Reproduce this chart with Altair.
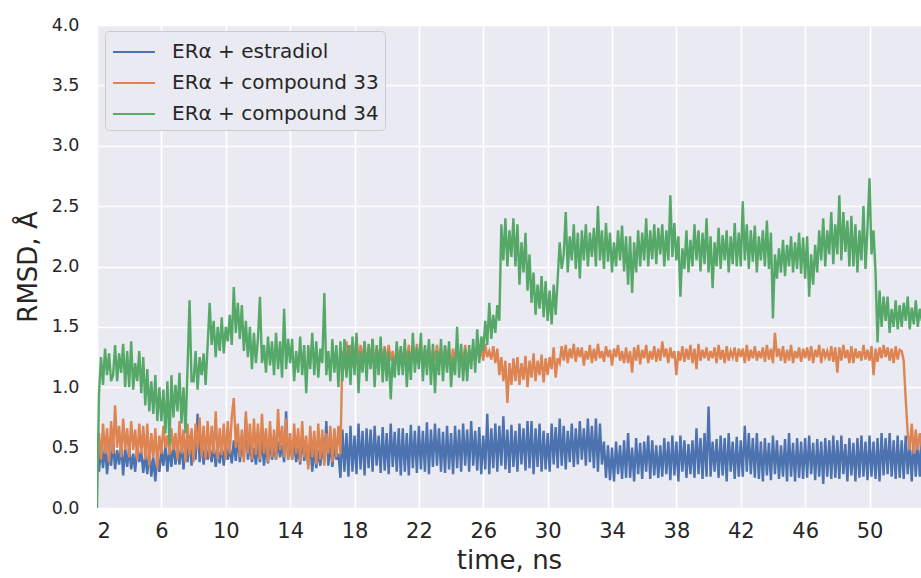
import altair as alt
import pandas as pd

# time axis: samples every 0.125 ns starting at 2 ns
T_START = 2.0
T_STEP = 0.125

# RMSD values (Å), 8 samples per ns
ESTRADIOL = [
    0.45, 0.30, 0.50, 0.33, 0.52, 0.28, 0.47, 0.35,  # 2
    0.55, 0.32, 0.48, 0.36, 0.53, 0.27, 0.50, 0.34,  # 3
    0.50, 0.32, 0.45, 0.30, 0.52, 0.38, 0.47, 0.29,  # 4
    0.44, 0.28, 0.50, 0.26, 0.42, 0.22, 0.45, 0.30,  # 5
    0.48, 0.35, 0.52, 0.30, 0.50, 0.34, 0.55, 0.36,  # 6
    0.50, 0.36, 0.55, 0.32, 0.52, 0.38, 0.60, 0.35,  # 7
    0.52, 0.40, 0.78, 0.38, 0.55, 0.36, 0.53, 0.40,  # 8
    0.50, 0.38, 0.54, 0.34, 0.48, 0.37, 0.52, 0.35,  # 9
    0.55, 0.40, 0.50, 0.37, 0.56, 0.39, 0.60, 0.38,  # 10
    0.52, 0.42, 0.75, 0.40, 0.55, 0.38, 0.50, 0.36,  # 11
    0.54, 0.38, 0.58, 0.35, 0.52, 0.37, 0.55, 0.40,  # 12
    0.50, 0.40, 0.55, 0.42, 0.52, 0.38, 0.80, 0.40,  # 13
    0.56, 0.40, 0.55, 0.38, 0.50, 0.36, 0.60, 0.39,  # 14
    0.52, 0.35, 0.55, 0.30, 0.50, 0.33, 0.48, 0.35,  # 15
    0.50, 0.38, 0.72, 0.35, 0.55, 0.34, 0.52, 0.40,  # 16
    0.45, 0.25, 0.65, 0.30, 0.62, 0.26, 0.68, 0.30,  # 17
    0.60, 0.28, 0.70, 0.32, 0.64, 0.27, 0.66, 0.33,  # 18
    0.65, 0.30, 0.68, 0.35, 0.60, 0.29, 0.67, 0.31,  # 19
    0.62, 0.28, 0.70, 0.34, 0.63, 0.30, 0.66, 0.27,  # 20
    0.66, 0.30, 0.62, 0.27, 0.69, 0.33, 0.64, 0.29,  # 21
    0.68, 0.32, 0.64, 0.30, 0.71, 0.28, 0.65, 0.34,  # 22
    0.70, 0.35, 0.66, 0.30, 0.63, 0.29, 0.68, 0.32,  # 23
    0.62, 0.28, 0.68, 0.33, 0.65, 0.30, 0.70, 0.35,  # 24
    0.65, 0.30, 0.72, 0.35, 0.64, 0.31, 0.67, 0.28,  # 25
    0.60, 0.32, 0.78, 0.28, 0.66, 0.33, 0.70, 0.30,  # 26
    0.68, 0.35, 0.76, 0.32, 0.65, 0.29, 0.69, 0.34,  # 27
    0.64, 0.30, 0.70, 0.36, 0.66, 0.31, 0.72, 0.33,  # 28
    0.72, 0.28, 0.66, 0.34, 0.70, 0.30, 0.64, 0.32,  # 29
    0.62, 0.30, 0.70, 0.36, 0.67, 0.33, 0.74, 0.35,  # 30
    0.68, 0.32, 0.64, 0.38, 0.70, 0.34, 0.66, 0.36,  # 31
    0.72, 0.40, 0.66, 0.35, 0.74, 0.38, 0.68, 0.33,  # 32
    0.74, 0.30, 0.70, 0.36, 0.55, 0.25, 0.52, 0.23,  # 33
    0.50, 0.22, 0.55, 0.28, 0.52, 0.24, 0.56, 0.25,  # 34
    0.62, 0.25, 0.50, 0.22, 0.58, 0.28, 0.54, 0.24,  # 35
    0.55, 0.30, 0.60, 0.24, 0.56, 0.27, 0.52, 0.25,  # 36
    0.52, 0.26, 0.58, 0.28, 0.55, 0.23, 0.60, 0.27,  # 37
    0.55, 0.22, 0.60, 0.30, 0.56, 0.25, 0.53, 0.28,  # 38
    0.56, 0.25, 0.66, 0.28, 0.58, 0.24, 0.62, 0.26,  # 39
    0.84, 0.26, 0.55, 0.30, 0.57, 0.25, 0.60, 0.27,  # 40
    0.58, 0.22, 0.62, 0.30, 0.55, 0.24, 0.59, 0.26,  # 41
    0.56, 0.26, 0.68, 0.30, 0.62, 0.28, 0.58, 0.25,  # 42
    0.62, 0.24, 0.55, 0.22, 0.58, 0.27, 0.54, 0.23,  # 43
    0.60, 0.28, 0.56, 0.24, 0.52, 0.26, 0.57, 0.22,  # 44
    0.62, 0.26, 0.54, 0.22, 0.58, 0.25, 0.55, 0.24,  # 45
    0.58, 0.25, 0.60, 0.28, 0.54, 0.23, 0.57, 0.26,  # 46
    0.55, 0.20, 0.58, 0.26, 0.56, 0.24, 0.60, 0.25,  # 47
    0.56, 0.24, 0.60, 0.28, 0.53, 0.22, 0.58, 0.27,  # 48
    0.54, 0.22, 0.58, 0.25, 0.60, 0.26, 0.55, 0.23,  # 49
    0.60, 0.26, 0.55, 0.24, 0.58, 0.22, 0.62, 0.27,  # 50
    0.58, 0.28, 0.62, 0.26, 0.56, 0.24, 0.60, 0.25,  # 51
    0.56, 0.24, 0.60, 0.28, 0.55, 0.22, 0.58, 0.26,  # 52
    0.55, 0.26, 0.57,                                # 53
]

COMPOUND_33 = [
    0.50, 0.62, 0.40, 0.70, 0.45, 0.66, 0.38, 0.72,  # 2
    0.45, 0.85, 0.50, 0.68, 0.42, 0.74, 0.48, 0.66,  # 3
    0.42, 0.72, 0.48, 0.65, 0.40, 0.70, 0.45, 0.68,  # 4
    0.40, 0.70, 0.35, 0.62, 0.42, 0.66, 0.33, 0.60,  # 5
    0.45, 0.68, 0.50, 0.60, 0.44, 0.66, 0.48, 0.62,  # 6
    0.40, 0.72, 0.45, 0.65, 0.38, 0.70, 0.44, 0.66,  # 7
    0.38, 0.70, 0.48, 0.75, 0.42, 0.68, 0.40, 0.72,  # 8
    0.42, 0.68, 0.45, 0.80, 0.40, 0.66, 0.44, 0.70,  # 9
    0.40, 0.72, 0.45, 0.76, 0.91, 0.50, 0.70, 0.42,  # 10
    0.65, 0.38, 0.80, 0.45, 0.70, 0.40, 0.74, 0.44,  # 11
    0.70, 0.40, 0.78, 0.45, 0.66, 0.38, 0.72, 0.42,  # 12
    0.65, 0.40, 0.82, 0.48, 0.68, 0.42, 0.74, 0.40,  # 13
    0.62, 0.40, 0.70, 0.45, 0.66, 0.38, 0.72, 0.42,  # 14
    0.60, 0.32, 0.68, 0.42, 0.64, 0.36, 0.70, 0.40,  # 15
    0.65, 0.35, 0.62, 0.45, 0.68, 0.38, 0.66, 0.42,  # 16
    0.68, 0.45, 1.30, 1.15, 1.38, 1.20, 1.35, 1.18,  # 17
    1.20, 1.42, 1.18, 1.35, 1.22, 1.38, 1.16, 1.33,  # 18
    1.22, 1.40, 1.15, 1.32, 1.20, 1.36, 1.18, 1.34,  # 19
    1.20, 1.35, 1.22, 1.30, 1.17, 1.34, 1.21, 1.32,  # 20
    1.18, 1.32, 1.22, 1.35, 1.20, 1.31, 1.19, 1.36,  # 21
    1.20, 1.30, 1.18, 1.33, 1.22, 1.35, 1.17, 1.31,  # 22
    1.22, 1.35, 1.20, 1.30, 1.18, 1.34, 1.21, 1.32,  # 23
    1.18, 1.32, 1.22, 1.34, 1.20, 1.30, 1.19, 1.35,  # 24
    1.20, 1.30, 1.25, 1.32, 1.21, 1.36, 1.23, 1.33,  # 25
    1.22, 1.36, 1.25, 1.30, 1.23, 1.34, 1.20, 1.32,  # 26
    1.10, 1.25, 1.05, 1.22, 0.87, 1.20, 1.02, 1.24,  # 27
    1.05, 1.25, 1.02, 1.20, 1.06, 1.26, 1.00, 1.22,  # 28
    1.08, 1.28, 1.05, 1.22, 1.10, 1.27, 1.04, 1.24,  # 29
    1.10, 1.25, 1.15, 1.33, 1.08, 1.24, 1.20, 1.34,  # 30
    1.22, 1.35, 1.20, 1.32, 1.24, 1.36, 1.21, 1.33,  # 31
    1.25, 1.33, 1.18, 1.30, 1.23, 1.35, 1.20, 1.32,  # 32
    1.22, 1.36, 1.24, 1.30, 1.21, 1.34, 1.25, 1.31,  # 33
    1.18, 1.32, 1.25, 1.35, 1.22, 1.30, 1.20, 1.33,  # 34
    1.20, 1.30, 1.12, 1.33, 1.22, 1.35, 1.19, 1.31,  # 35
    1.24, 1.35, 1.20, 1.30, 1.23, 1.34, 1.21, 1.32,  # 36
    1.22, 1.38, 1.25, 1.32, 1.20, 1.33, 1.24, 1.30,  # 37
    1.10, 1.30, 1.22, 1.34, 1.21, 1.32, 1.23, 1.35,  # 38
    1.20, 1.32, 1.15, 1.36, 1.22, 1.31, 1.24, 1.33,  # 39
    1.22, 1.30, 1.24, 1.33, 1.20, 1.35, 1.23, 1.31,  # 40
    1.20, 1.34, 1.22, 1.30, 1.25, 1.33, 1.21, 1.32,  # 41
    1.25, 1.32, 1.20, 1.35, 1.22, 1.31, 1.24, 1.34,  # 42
    1.22, 1.30, 1.24, 1.33, 1.21, 1.35, 1.23, 1.32,  # 43
    1.20, 1.45, 1.25, 1.32, 1.22, 1.34, 1.20, 1.31,  # 44
    1.22, 1.35, 1.20, 1.30, 1.24, 1.33, 1.21, 1.32,  # 45
    1.24, 1.33, 1.22, 1.34, 1.20, 1.31, 1.25, 1.35,  # 46
    1.20, 1.32, 1.25, 1.30, 1.22, 1.34, 1.21, 1.33,  # 47
    1.12, 1.33, 1.22, 1.35, 1.24, 1.31, 1.20, 1.34,  # 48
    1.20, 1.32, 1.24, 1.30, 1.22, 1.35, 1.23, 1.31,  # 49
    1.22, 1.34, 1.10, 1.32, 1.21, 1.33, 1.24, 1.35,  # 50
    1.25, 1.33, 1.22, 1.32, 1.20, 1.34, 1.23, 1.31,  # 51
    1.30, 1.22, 0.90, 0.62, 0.48, 0.70, 0.45, 0.65,  # 52
    0.48, 0.62, 0.52,                                # 53
]

COMPOUND_34 = [
    0.00, 0.95, 1.25, 1.02, 1.32, 1.10, 1.28, 1.05,  # 2
    1.10, 1.35, 1.05, 1.28, 1.12, 1.36, 1.00, 1.30,  # 3
    1.00, 1.38, 0.98, 1.20, 1.05, 1.30, 0.95, 1.25,  # 4
    0.85, 1.15, 0.80, 1.05, 0.78, 1.10, 0.72, 1.00,  # 5
    0.72, 0.98, 0.62, 1.05, 0.52, 1.10, 0.75, 1.02,  # 6
    0.80, 1.12, 0.70, 1.00, 0.62, 1.15, 1.72, 1.05,  # 7
    1.05, 1.30, 0.98, 1.25, 1.10, 1.28, 1.02, 1.35,  # 8
    1.70, 1.35, 1.55, 1.25, 1.50, 1.30, 1.58, 1.28,  # 9
    1.50, 1.38, 1.60, 1.35, 1.83, 1.45, 1.70, 1.40,  # 10
    1.68, 1.30, 1.55, 1.25, 1.50, 1.15, 1.45, 1.20,  # 11
    1.40, 1.75, 1.20, 1.35, 1.12, 1.42, 1.18, 1.38,  # 12
    1.10, 1.45, 1.15, 1.38, 1.08, 1.65, 1.15, 1.40,  # 13
    1.20, 1.40, 1.05, 1.30, 1.12, 1.42, 1.10, 1.35,  # 14
    0.95, 1.35, 1.15, 1.45, 1.10, 1.38, 1.08, 1.32,  # 15
    1.20, 1.78, 1.10, 1.30, 1.05, 1.40, 1.12, 1.35,  # 16
    1.00, 1.38, 1.05, 1.40, 1.08, 1.35, 1.02, 1.42,  # 17
    1.10, 1.45, 0.95, 1.30, 1.12, 1.38, 1.05, 1.36,  # 18
    1.15, 1.40, 1.00, 1.35, 1.10, 1.42, 1.04, 1.32,  # 19
    1.05, 1.30, 0.90, 1.25, 1.08, 1.38, 1.10, 1.34,  # 20
    1.10, 1.40, 1.00, 1.30, 1.06, 1.45, 1.12, 1.33,  # 21
    1.15, 1.45, 1.05, 1.35, 1.10, 1.40, 1.02, 1.36,  # 22
    0.95, 1.30, 1.10, 1.40, 1.05, 1.35, 1.12, 1.38,  # 23
    1.00, 1.25, 1.10, 1.50, 1.08, 1.36, 1.05, 1.32,  # 24
    1.05, 1.35, 1.15, 1.40, 1.12, 1.48, 1.20, 1.42,  # 25
    1.30, 1.55, 1.35, 1.70, 1.40, 1.60, 1.45, 1.68,  # 26
    1.55, 2.35, 2.05, 2.40, 2.00, 2.30, 2.08, 2.40,  # 27
    2.00, 2.35, 1.85, 2.20, 1.95, 2.28, 1.80, 2.10,  # 28
    1.70, 1.95, 1.60, 1.85, 1.65, 1.92, 1.58, 1.88,  # 29
    1.55, 1.80, 1.52, 1.85, 1.60, 1.90, 2.20, 1.98,  # 30
    2.10, 2.45, 1.95, 2.25, 2.05, 2.35, 1.98, 2.28,  # 31
    1.90, 2.30, 2.05, 2.35, 2.00, 2.28, 2.08, 2.32,  # 32
    2.00, 2.50, 2.05, 2.30, 1.98, 2.36, 2.04, 2.28,  # 33
    1.95, 2.20, 2.00, 2.30, 2.05, 2.34, 1.96, 2.25,  # 34
    1.85, 2.25, 1.78, 2.20, 1.95, 2.30, 2.00, 2.28,  # 35
    2.05, 2.40, 2.00, 2.30, 2.06, 2.35, 2.02, 2.32,  # 36
    2.10, 2.35, 2.00, 2.30, 2.05, 2.59, 2.08, 2.36,  # 37
    2.05, 2.25, 1.75, 2.15, 1.98, 2.30, 1.95, 2.22,  # 38
    2.00, 2.35, 2.05, 2.30, 1.96, 2.28, 2.02, 2.40,  # 39
    1.95, 2.25, 1.82, 2.20, 2.00, 2.32, 1.98, 2.26,  # 40
    2.05, 2.30, 1.95, 2.25, 2.02, 2.36, 2.00, 2.28,  # 41
    2.00, 2.54, 2.05, 2.35, 1.98, 2.30, 2.04, 2.34,  # 42
    1.95, 2.25, 2.05, 2.30, 2.00, 2.38, 1.98, 2.28,  # 43
    1.57, 2.10, 1.90, 2.15, 1.95, 2.22, 1.92, 2.18,  # 44
    2.00, 2.25, 1.95, 2.20, 1.98, 2.28, 1.94, 2.24,  # 45
    1.90, 2.25, 1.75, 2.10, 1.85, 2.18, 1.95, 2.30,  # 46
    2.05, 2.40, 2.00, 2.30, 2.10, 2.45, 2.02, 2.35,  # 47
    2.10, 2.59, 2.05, 2.45, 2.12, 2.38, 2.00, 2.42,  # 48
    2.00, 2.35, 1.95, 2.30, 2.05, 2.50, 1.98, 2.32,  # 49
    2.73, 2.10, 2.30, 1.95, 1.37, 1.80, 1.50, 1.75,  # 50
    1.55, 1.75, 1.45, 1.65, 1.50, 1.72, 1.48, 1.68,  # 51
    1.50, 1.70, 1.55, 1.75, 1.48, 1.66, 1.52, 1.72,  # 52
    1.50, 1.65, 1.55,                                # 53
]

SERIES_NAMES = ["ERα + estradiol", "ERα + compound 33", "ERα + compound 34"]
SERIES_VALUES = [ESTRADIOL, COMPOUND_33, COMPOUND_34]
COLORS = ["#4C72B0", "#DD8452", "#55A868"]
X_TICKS = [2, 6, 10, 14, 18, 22, 26, 30, 34, 38, 42, 46, 50]
Y_TICKS = [0.0, 0.5, 1.0, 1.5, 2.0, 2.5, 3.0, 3.5, 4.0]
X_DOMAIN = [2, 53.2]
Y_DOMAIN = [0, 4]

rows = []
for name, vals in zip(SERIES_NAMES, SERIES_VALUES):
    for i, v in enumerate(vals):
        rows.append({"time": T_START + i * T_STEP, "rmsd": v, "series": name})
df = pd.DataFrame(rows)

FONT = "DejaVu Sans"
TEXT = "#262626"

color = alt.Color(
    "series:N",
    scale=alt.Scale(domain=SERIES_NAMES, range=COLORS),
    legend=alt.Legend(
        title=None,
        orient="none",
        legendX=8,
        legendY=6,
        padding=6,
        symbolType="M-0.93,0H2.07",
        symbolSize=784,
        symbolStrokeWidth=2,
        labelFontSize=20,
        labelFont=FONT,
        labelColor=TEXT,
        labelOffset=31,
        labelLimit=500,
        rowPadding=6,
        fillColor="#EAEAF2",
        strokeColor="#CCCCCC",
        cornerRadius=4,
    ),
)

x = alt.X(
    "time:Q",
    scale=alt.Scale(domain=X_DOMAIN, nice=False, zero=False),
    axis=alt.Axis(values=X_TICKS, title="time, ns", labelFontSize=21,
                  labelPadding=12, titlePadding=6, format="d"),
)
y = alt.Y(
    "rmsd:Q",
    scale=alt.Scale(domain=Y_DOMAIN, nice=False),
    axis=alt.Axis(values=Y_TICKS, title="RMSD, Å", format=".1f",
                  labelFontSize=17.5, labelPadding=18, titlePadding=10),
)

layers = []
for name in SERIES_NAMES:
    layers.append(
        alt.Chart(df)
        .transform_filter(alt.datum.series == name)
        .mark_line(strokeWidth=2.4, clip=True)
        .encode(x=x, y=y, color=color, order="time:Q")
    )

chart = (
    alt.layer(*layers)
    .properties(
        width=824,
        height=483,
        autosize=alt.AutoSizeParams(type="none"),
        padding={"left": 97, "top": 25, "right": 0, "bottom": 70},
    )
    .configure_view(fill="#EAEAF2", strokeWidth=0)
    .configure_axis(
        grid=True,
        gridColor="#FFFFFF",
        gridWidth=1.6,
        domain=False,
        ticks=False,
        labelFont=FONT,
        labelColor=TEXT,
        titleFont=FONT,
        titleColor=TEXT,
        titleFontSize=26,
        titleFontWeight="normal",
    )
)

chart.save("out.html", embed_options={"renderer": "svg", "actions": False})
